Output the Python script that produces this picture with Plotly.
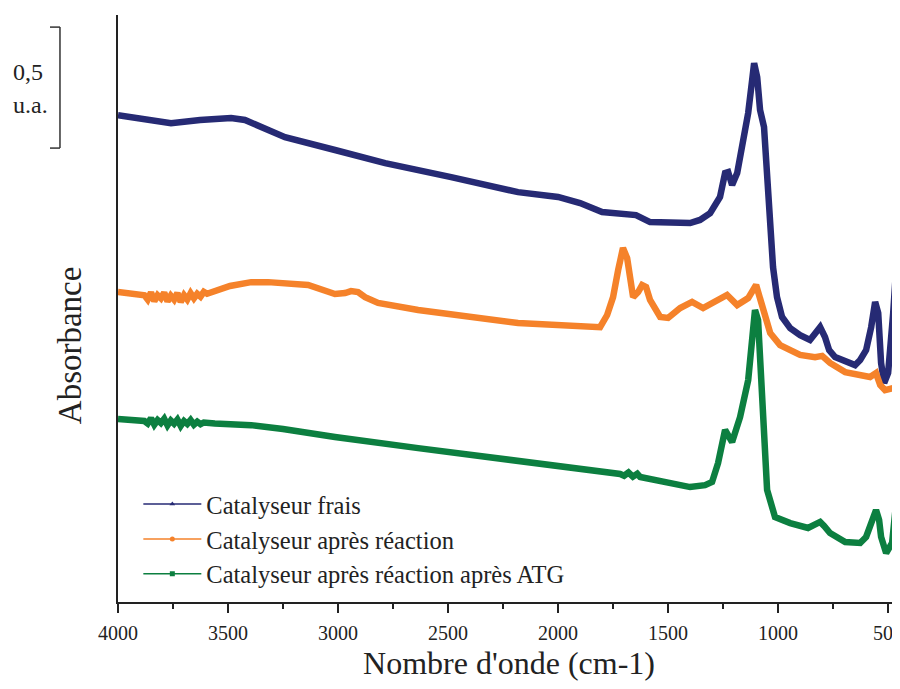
import plotly.graph_objects as go

# Spectres IR (unités arbitraires, décalés verticalement comme dans la figure)
wn_frais = [4000, 3759, 3627, 3486, 3423, 3355, 3241, 3014, 2786, 2486, 2182, 2000, 1900,
            1800, 1646, 1582, 1500, 1400, 1355, 1309, 1264, 1241, 1227, 1209, 1186, 1159,
            1136, 1118, 1109, 1095, 1082, 1064, 1050, 1036, 1023, 1005, 982, 945, 900, 855,
            832, 809, 787, 768, 741, 695, 650, 627, 600, 577, 559, 545, 532, 518, 500, 477,
            459, 446]
abs_frais = [2.012, 1.979, 1.992, 2.000, 1.992, 1.967, 1.921, 1.868, 1.814, 1.756, 1.694,
             1.674, 1.649, 1.612, 1.599, 1.570, 1.566, 1.566, 1.579, 1.607, 1.674, 1.773,
             1.777, 1.723, 1.773, 1.897, 2.021, 2.157, 2.227, 2.169, 2.033, 1.963, 1.773,
             1.566, 1.384, 1.260, 1.178, 1.132, 1.103, 1.083, 1.112, 1.136, 1.095, 1.041,
             1.012, 0.992, 0.979, 1.000, 1.041, 1.136, 1.240, 1.194, 0.988, 0.905, 0.946,
             1.194, 1.442, 1.455]

wn_reaction = [4000, 3923, 3880, 3865, 3850, 3835, 3820, 3805, 3790, 3775, 3760, 3745, 3730,
               3715, 3700, 3685, 3670, 3655, 3640, 3625, 3610, 3595, 3560, 3491, 3395, 3318,
               3136, 3014, 2968, 2941, 2909, 2877, 2818, 2636, 2182, 2000, 1855, 1809, 1777,
               1750, 1727, 1705, 1686, 1659, 1636, 1618, 1600, 1582, 1536, 1500, 1445, 1391,
               1341, 1286, 1232, 1186, 1136, 1100, 1068, 1036, 991, 900, 832, 800, 764, 695,
               582, 555, 536, 514, 477, 446]
abs_reaction = [1.281, 1.273, 1.268, 1.250, 1.280, 1.243, 1.268, 1.255, 1.279, 1.242, 1.266,
                1.250, 1.277, 1.240, 1.268, 1.250, 1.276, 1.255, 1.274, 1.262, 1.282, 1.274,
                1.285, 1.306, 1.322, 1.322, 1.310, 1.273, 1.277, 1.285, 1.281, 1.260, 1.236,
                1.207, 1.153, 1.145, 1.132, 1.136, 1.186, 1.260, 1.372, 1.463, 1.421, 1.260,
                1.281, 1.310, 1.302, 1.248, 1.178, 1.174, 1.215, 1.240, 1.215, 1.240, 1.269,
                1.227, 1.256, 1.310, 1.219, 1.112, 1.062, 1.021, 1.012, 1.017, 0.988, 0.950,
                0.930, 0.946, 0.897, 0.876, 0.884, 0.909]

wn_atg = [4000, 3923, 3880, 3865, 3850, 3835, 3820, 3805, 3790, 3775, 3760, 3745, 3730, 3715,
          3700, 3685, 3670, 3655, 3640, 3625, 3610, 3560, 3491, 3395, 3250, 3014, 2636, 2500,
          2000, 1800, 1718, 1700, 1680, 1660, 1640, 1627, 1600, 1560, 1500, 1400, 1332, 1300,
          1273, 1241, 1209, 1173, 1136, 1118, 1105, 1091, 1082, 1068, 1050, 1014, 945, 864,
          827, 809, 791, 764, 695, 627, 600, 577, 555, 541, 532, 509, 482, 459, 446]
abs_atg = [0.756, 0.752, 0.748, 0.738, 0.760, 0.733, 0.752, 0.740, 0.757, 0.730, 0.750, 0.737,
           0.754, 0.728, 0.748, 0.736, 0.752, 0.733, 0.745, 0.735, 0.742, 0.738, 0.736, 0.731,
           0.715, 0.682, 0.636, 0.620, 0.566, 0.541, 0.529, 0.522, 0.535, 0.518, 0.530, 0.517,
           0.512, 0.503, 0.496, 0.475, 0.483, 0.496, 0.574, 0.711, 0.661, 0.764, 0.917, 1.083,
           1.207, 1.165, 0.988, 0.711, 0.463, 0.351, 0.326, 0.306, 0.322, 0.331, 0.314, 0.285,
           0.248, 0.244, 0.269, 0.318, 0.380, 0.339, 0.269, 0.202, 0.244, 0.450, 0.463]

series = [
    ("Catalyseur frais", wn_frais, abs_frais, "#262a74", "triangle-up"),
    ("Catalyseur après réaction", wn_reaction, abs_reaction, "#f5822a", "circle"),
    ("Catalyseur après réaction après ATG", wn_atg, abs_atg, "#0c7f40", "square"),
]

serif = "Liberation Serif"

fig = go.Figure()
for name, x, y, color, symbol in series:
    fig.add_trace(go.Scatter(x=x, y=y, mode="lines", line=dict(color=color, width=6.5),
                             showlegend=False, hoverinfo="skip"))
# entrées de légende (trait fin + marqueur)
for name, x, y, color, symbol in series:
    fig.add_trace(go.Scatter(x=[None], y=[None], mode="lines+markers", name=name,
                             line=dict(color=color, width=1.5),
                             marker=dict(symbol=symbol, size=5, color=color)))

# barre d'échelle 0,5 u.a.
bar_x = -0.0742
tick_x = -0.087
for y0, y1, xa, xb in [(1.876, 2.376, bar_x, bar_x), (2.376, 2.376, tick_x, bar_x),
                       (1.876, 1.876, tick_x, bar_x)]:
    fig.add_shape(type="line", xref="paper", yref="y", x0=xa, x1=xb, y0=y0, y1=y1,
                  line=dict(color="#333333", width=1.5))
fig.add_annotation(xref="paper", yref="y", x=-0.1157, y=2.190, text="0,5", xanchor="center",
                   showarrow=False, font=dict(family=serif, size=24, color="#222222"))
fig.add_annotation(xref="paper", yref="y", x=-0.1125, y=2.054, text="u.a.", xanchor="center",
                   showarrow=False, font=dict(family=serif, size=24, color="#222222"))
fig.add_annotation(xref="paper", yref="paper", x=-0.061, y=0.438, text="Absorbance",
                   xanchor="center", yanchor="middle", textangle=-90, showarrow=False,
                   font=dict(family=serif, size=33, color="#222222"))

# la page ajoute une marge de 8 px : figure un peu plus petite que la fenêtre
fig.update_layout(
    width=892, height=673,
    margin=dict(l=110, r=0, t=7, b=79, autoexpand=False),
    paper_bgcolor="white", plot_bgcolor="white",
    font=dict(family=serif, color="#222222"),
    legend=dict(x=0.026, y=0.205, xanchor="left", yanchor="top",
                font=dict(family=serif, size=24.5, color="#222222"),
                bgcolor="rgba(0,0,0,0)", itemwidth=58),
    xaxis=dict(range=[4000, 446], dtick=500, tick0=0, showgrid=False, zeroline=False,
               automargin=False,
               showline=True, linecolor="#222222", linewidth=2,
               ticks="outside", ticklen=9, tickwidth=1.5, tickcolor="#222222",
               ticklabelstandoff=3, ticklabeloverflow="allow",
               tickfont=dict(family=serif, size=20, color="#222222"),
               minor=dict(dtick=250, ticks="outside", ticklen=5, tickcolor="#222222"),
               title=dict(text="Nombre d'onde (cm-1)", standoff=12,
                          font=dict(family=serif, size=32, color="#222222"))),
    yaxis=dict(range=[0, 2.426], showgrid=False, zeroline=False, showticklabels=False,
               automargin=False,
               showline=True, linecolor="#222222", linewidth=1.5, ticks=""),
)

fig.write_html("out.html")
